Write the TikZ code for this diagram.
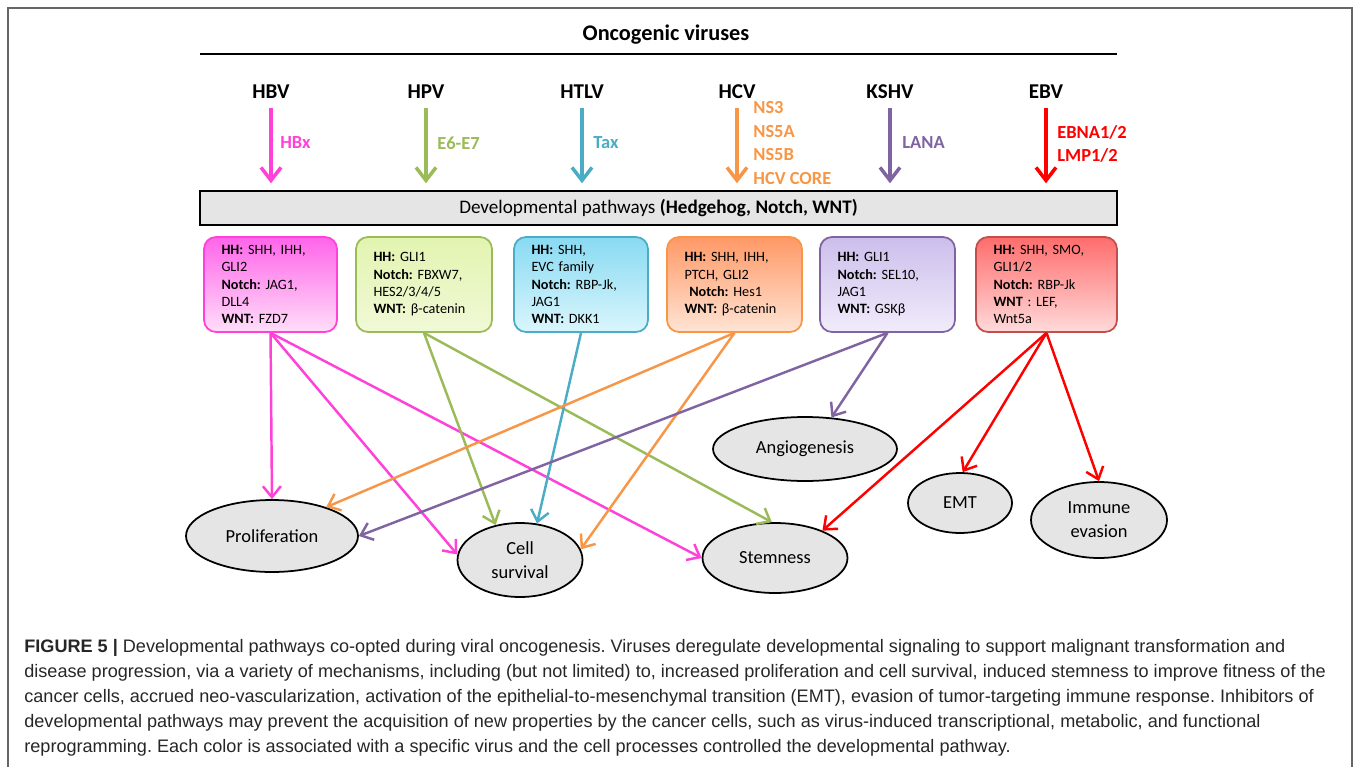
\documentclass[tikz,border=0pt]{standalone}
\usepackage{fontspec}
\setmainfont{Carlito}
\newfontfamily\capfont{Liberation Sans}
\usetikzlibrary{shapes.geometric, arrows.meta}
\frenchspacing

\definecolor{hbvcol}{HTML}{FF40D9}
\definecolor{hpvcol}{HTML}{9BBB59}
\definecolor{htlvcol}{HTML}{4BACC6}
\definecolor{hcvcol}{HTML}{F79646}
\definecolor{kshvcol}{HTML}{8064A2}
\definecolor{ebvcol}{HTML}{FF0000}
\definecolor{ebvedge}{HTML}{C0504D}

\tikzstyle{virus} = [font=\fontsize{12}{14}\selectfont\bfseries]
\tikzstyle{protein} = [anchor=west, inner sep=0pt, align=left,
font=\fontsize{10.5}{13.3}\selectfont\bfseries]
\tikzstyle{pathway} = [rectangle, draw, rounded corners=2.4mm, line width=1pt,
inner xsep=3.5mm, align=left, minimum height=1.9cm, font=\fontsize{8.1}{9.9}\selectfont]
\tikzstyle{effect} = [ellipse, draw, fill=gray!20, line width=1pt, inner sep=0pt,
align=center, font=\fontsize{10.5}{13.6}\selectfont]
\tikzstyle{entry} = [draw, line width=2pt, shorten <=0.6mm, shorten >=1.4mm,
-{Straight Barb[length=2.6mm,width=4mm]}]
\tikzstyle{line} = [draw, line width=1.4pt, -{Straight Barb[length=2.2mm,width=3.6mm]}]
\tikzstyle{capline} = [anchor=base west, inner sep=0pt, text=black!85,
font=\capfont\fontsize{10.3}{11}\selectfont]

\begin{document}
\begin{tikzpicture}[x=0.02cm, y=-0.02cm]
    \useasboundingbox (0,0) rectangle (1358,767);
    \draw[black!60, line width=0.8pt] (8,767) -- (8,8) -- (1352,8) -- (1352,767);

    \node [virus, font=\fontsize{12.7}{14}\selectfont\bfseries] (title) at (666,35) {Oncogenic viruses};
    \draw [line width=1pt] (200,54) -- (1117,54);

    \node [virus] (hbv) at (271,92) {HBV};
    \node [virus] (hpv) at (426,92) {HPV};
    \node [virus] (htlv) at (582,92) {HTLV};
    \node [virus] (hcv) at (737,92) {HCV};
    \node [virus] (kshv) at (890,92) {KSHV};
    \node [virus] (ebv) at (1046,92) {EBV};

    \node [draw, fill=gray!20, line width=0.8pt, minimum width=18.34cm, minimum height=0.68cm,
        font=\fontsize{10.9}{12}\selectfont] (devbox) at (658.5,208)
        {Developmental pathways \textbf{(Hedgehog, Notch, WNT)}};

    \path [entry, hbvcol] (hbv) -- (hbv |- devbox.north);
    \path [entry, hpvcol] (hpv) -- (hpv |- devbox.north);
    \path [entry, htlvcol] (htlv) -- (htlv |- devbox.north);
    \path [entry, hcvcol] (hcv) -- (hcv |- devbox.north);
    \path [entry, kshvcol] (kshv) -- (kshv |- devbox.north);
    \path [entry, ebvcol] (ebv) -- (ebv |- devbox.north);

    \node [protein, text=hbvcol] (hbx) at (280,143) {HBx};
    \node [protein, text=hpvcol] (e6e7) at (437,143) {E6-E7};
    \node [protein, text=htlvcol] (tax) at (593,143) {Tax};
    \node [protein, text=hcvcol] (ns) at (753,143) {NS3\\NS5A\\NS5B\\HCV CORE};
    \node [protein, text=kshvcol] (lana) at (902,143) {LANA};
    \node [protein, text=ebvcol] (ebna) at (1057,144) {EBNA1/2\\LMP1/2};

    % pathway members per virus
    \node [pathway, text width=1.96cm, draw=hbvcol, top color={rgb,255:red,255;green,100;blue,234},
        bottom color={rgb,255:red,255;green,222;blue,249}] (hbvbox) at (270.5,284.5)
        {\textbf{HH:} SHH, IHH,\\GLI2\\\textbf{Notch:} JAG1,\\DLL4\\\textbf{WNT:} FZD7};
    \node [pathway, text width=2.02cm, draw=hpvcol, top color={rgb,255:red,226;green,244;blue,176},
        bottom color={rgb,255:red,240;green,249;blue,214}] (hpvbox) at (424,284.5)
        {\textbf{HH:} GLI1\\\textbf{Notch:} FBXW7,\\HES2/3/4/5\\\textbf{WNT:} β-catenin};
    \node [pathway, text width=1.98cm, draw=htlvcol, top color={rgb,255:red,136;green,218;blue,242},
        bottom color={rgb,255:red,218;green,246;blue,252}] (htlvbox) at (581,284.5)
        {\textbf{HH:} SHH,\\EVC family\\\textbf{Notch:} RBP-Jk,\\JAG1\\\textbf{WNT:} DKK1};
    \node [pathway, text width=2.0cm, draw=hcvcol, top color={rgb,255:red,255;green,152;blue,102},
        bottom color={rgb,255:red,255;green,228;blue,212}] (hcvbox) at (734.5,284.5)
        {\textbf{HH:} SHH, IHH,\\PTCH, GLI2\\\ \textbf{Notch:} Hes1\\\textbf{WNT:} β-catenin};
    \node [pathway, text width=2.0cm, draw=kshvcol, top color={rgb,255:red,204;green,190;blue,236},
        bottom color={rgb,255:red,241;green,236;blue,251}] (kshvbox) at (887.5,284.5)
        {\textbf{HH:} GLI1\\\textbf{Notch:} SEL10,\\JAG1\\\textbf{WNT:} GSKβ};
    \node [pathway, text width=2.12cm, draw=ebvedge, top color={rgb,255:red,255;green,108;blue,108},
        bottom color={rgb,255:red,255;green,218;blue,218}] (ebvbox) at (1046.5,284.5)
        {\textbf{HH:} SHH, SMO,\\GLI1/2\\\textbf{Notch:} RBP-Jk\\\textbf{WNT} : LEF,\\Wnt5a};

    % cell processes
    \node [effect, minimum width=3.44cm, minimum height=1.44cm] (prolif) at (272,536) {Proliferation};
    \node [effect, minimum width=2.5cm, minimum height=1.48cm] (cellsurv) at (520,560) {Cell\\survival};
    \node [effect, minimum width=2.9cm, minimum height=1.4cm] (stem) at (775,558) {Stemness};
    \node [effect, minimum width=3.68cm, minimum height=1.28cm] (angio) at (805,449) {Angiogenesis};
    \node [effect, minimum width=2.08cm, minimum height=1.2cm] (emt) at (960,503) {EMT};
    \node [effect, minimum width=2.72cm, minimum height=1.52cm] (immune) at (1099,520) {Immune\\evasion};

    \path [line, hbvcol] (hbvbox.south) -- (prolif.north);
    \path [line, hbvcol] (hbvbox.south) -- (cellsurv.175);
    \path [line, hbvcol] (hbvbox.south) -- (stem.west);
    \path [line, hpvcol] (hpvbox.south) -- (cellsurv.125);
    \path [line, hpvcol] (hpvbox.south) -- (stem.95);
    \path [line, htlvcol] (htlvbox.south) -- (cellsurv.65);
    \path [line, hcvcol] (hcvbox.south) -- (prolif.28);
    \path [line, hcvcol] (hcvbox.south) -- (cellsurv.10);
    \path [line, kshvcol] (kshvbox.south) -- (prolif.east);
    \path [line, kshvcol] (kshvbox.south) -- (angio.50);
    \path [line, ebvcol] (ebvbox.south) -- (stem.30);
    \path [line, ebvcol] (ebvbox.south) -- (emt.85);
    \path [line, ebvcol] (ebvbox.south) -- (immune.north);

    % caption
    \node [capline] (cap1) at (24,652) {\textbf{FIGURE 5 |} Developmental pathways co-opted during viral oncogenesis. Viruses deregulate developmental signaling to support malignant transformation and};
    \node [capline] (cap2) at (24,677) {disease progression, via a variety of mechanisms, including (but not limited) to, increased proliferation and cell survival, induced stemness to improve fitness of the};
    \node [capline] (cap3) at (24,702) {cancer cells, accrued neo-vascularization, activation of the epithelial-to-mesenchymal transition (EMT), evasion of tumor-targeting immune response. Inhibitors of};
    \node [capline] (cap4) at (24,727) {developmental pathways may prevent the acquisition of new properties by the cancer cells, such as virus-induced transcriptional, metabolic, and functional};
    \node [capline] (cap5) at (24,752) {reprogramming. Each color is associated with a specific virus and the cell processes controlled the developmental pathway.};
\end{tikzpicture}
\end{document}
